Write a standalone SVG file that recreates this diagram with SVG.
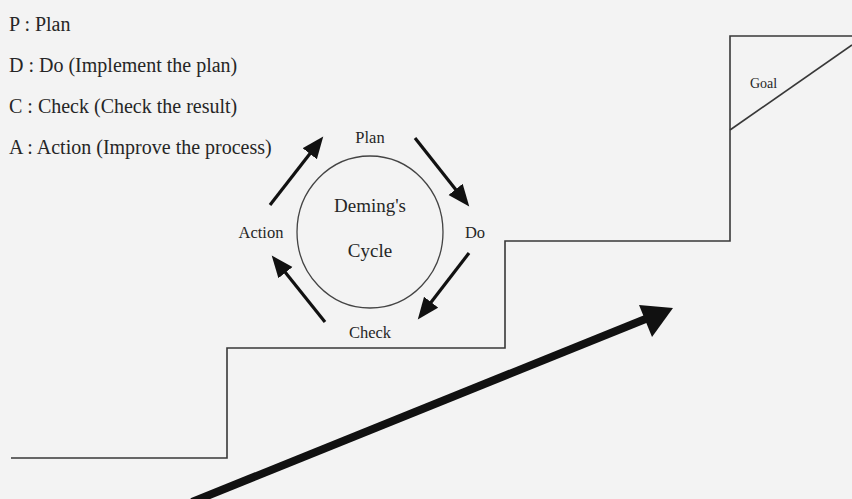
<svg xmlns="http://www.w3.org/2000/svg" width="852" height="499" viewBox="0 0 852 499">
  <style>
    .t { font-family: "Liberation Serif", "Times New Roman", serif; fill: #262626; }
    .legend { font-size: 20px; }
    .lbl { font-size: 16.5px; text-anchor: middle; }
    .inner { font-size: 19px; text-anchor: middle; }
    .stair { fill: none; stroke: #383838; stroke-width: 1.6; }
    .cyc { stroke: #111; stroke-width: 3.2; fill: none; }
  </style>
  <defs>
    <marker id="ah" markerUnits="userSpaceOnUse" markerWidth="24" markerHeight="20" refX="10" refY="9" orient="auto">
      <path d="M0,0 L22,9 L0,18 z" fill="#111"/>
    </marker>
  </defs>
  <rect width="852" height="499" fill="#f3f3f3"/>

  <g id="legend">
    <text class="t legend" x="9" y="31">P : Plan</text>
    <text class="t legend" x="9" y="72">D : Do (Implement the plan)</text>
    <text class="t legend" x="9" y="113">C : Check (Check the result)</text>
    <text class="t legend" x="9" y="154">A : Action (Improve the process)</text>
  </g>

  <g id="staircase">
    <polyline class="stair" points="11,458 227,458 227,348 505,348 505,241 730,241 730,36 852,36"/>
    <line class="stair" x1="730" y1="130" x2="852" y2="45"/>
  </g>
  <g id="goal">
    <text class="t" x="750" y="88" font-size="14">Goal</text>
  </g>

  <g id="cycle">
    <ellipse cx="370" cy="232" rx="73" ry="76" fill="none" stroke="#444" stroke-width="1.3"/>
    <text class="t inner" x="370" y="212">Deming's</text>
    <text class="t inner" x="370" y="257">Cycle</text>
  </g>
  <g id="plan"><text class="t lbl" x="370" y="143">Plan</text></g>
  <g id="do"><text class="t lbl" x="475" y="238">Do</text></g>
  <g id="check"><text class="t lbl" x="370" y="338">Check</text></g>
  <g id="action"><text class="t lbl" x="261" y="238">Action</text></g>

  <g id="connectors">
    <line class="cyc" x1="270" y1="205" x2="315.9" y2="145.9" marker-end="url(#ah)"/>
    <line class="cyc" x1="415" y1="138" x2="461.8" y2="197.2" marker-end="url(#ah)"/>
    <line class="cyc" x1="469" y1="253" x2="425.1" y2="310.1" marker-end="url(#ah)"/>
    <line class="cyc" x1="325" y1="322" x2="279.2" y2="264.8" marker-end="url(#ah)"/>
    <line x1="192" y1="502" x2="648" y2="318" stroke="#111" stroke-width="8"/>
    <polygon points="673,308 639,305 652,337" fill="#111"/>
  </g>
</svg>
